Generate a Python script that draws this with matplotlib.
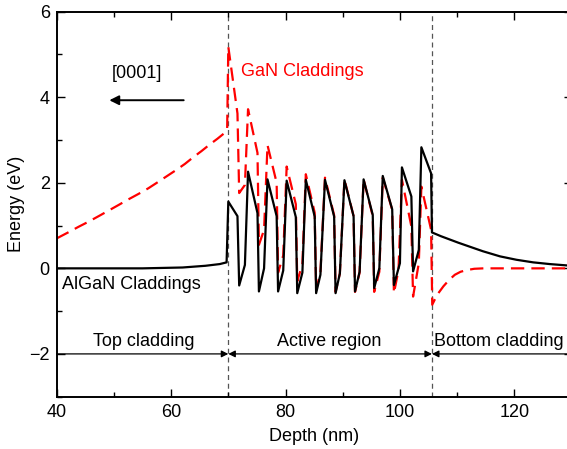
import matplotlib
matplotlib.use("Agg")
import matplotlib.pyplot as plt
from matplotlib.ticker import MultipleLocator

plt.rcParams['font.family'] = ['Liberation Sans', 'DejaVu Sans']

# AlGaN claddings (black, solid)
algan_x = [40, 55, 62, 66, 68.5, 69.7,
           70.0, 71.6, 71.9, 72.9,
           73.45, 75.1, 75.35, 76.25,
           76.85, 78.45, 78.7, 79.6,
           80.2, 81.8, 82.05, 82.95,
           83.55, 85.1, 85.35, 86.1,
           86.9, 88.5, 88.75, 89.5,
           90.3, 91.9, 92.15, 92.95,
           93.65, 95.25, 95.5, 96.4,
           97.0, 98.65, 98.95, 100.0,
           100.35, 102.0, 102.3, 103.3,
           103.75, 105.45, 105.6,
           107.2, 108.8, 110.2, 111.7, 114.5, 117.5, 120.4, 123.3, 126.2, 130]
algan_y = [0.0, 0.0, 0.02, 0.06, 0.1, 0.14,
           1.56, 1.22, -0.40, 0.08,
           2.26, 1.29, -0.54, 0.0,
           2.08, 1.22, -0.54, -0.05,
           2.05, 1.20, -0.58, -0.10,
           2.07, 1.21, -0.58, -0.15,
           2.07, 1.21, -0.58, -0.12,
           2.06, 1.22, -0.54, -0.08,
           2.08, 1.25, -0.46, 0.0,
           2.16, 1.38, -0.39, 0.12,
           2.36, 1.68, -0.07, 0.43,
           2.83, 2.22, 0.84,
           0.75, 0.67, 0.60, 0.53, 0.40, 0.28, 0.20, 0.14, 0.10, 0.06]

# GaN claddings (red, dashed)
gan_x = [40, 42, 43.8, 45.7, 47.6, 49.2, 50.8, 52.5, 54.3, 56, 57.5, 59.2,
         60.9, 62.4, 63.8, 65.3, 66.7, 68.1, 69.4, 69.8,
         70.0, 71.6, 71.9, 72.9,
         73.45, 75.1, 75.35, 76.25,
         76.85, 78.45, 78.7, 79.6,
         80.2, 81.8, 82.05, 82.95,
         83.55, 85.1, 85.35, 86.1,
         86.9, 88.5, 88.75, 89.5,
         90.3, 91.9, 92.15, 92.95,
         93.65, 95.25, 95.5, 96.4,
         97.0, 98.65, 98.95, 99.75,
         100.35, 102.0, 102.3, 103.3,
         103.75, 105.45, 105.65,
         106.5, 107.6, 108.6, 109.6, 110.6, 111.7, 113.0, 114.6, 130]
gan_y = [0.70, 0.84, 0.97, 1.10, 1.24, 1.36, 1.48, 1.61, 1.74, 1.87, 2.00, 2.15,
         2.30, 2.44, 2.59, 2.74, 2.89, 3.03, 3.17, 3.27,
         5.18, 3.62, 1.76, 1.95,
         3.72, 2.70, 0.55, 0.90,
         2.88, 2.00, -0.10, 0.30,
         2.38, 1.50, -0.30, 0.10,
         2.20, 1.30, -0.50, -0.10,
         2.12, 1.24, -0.55, -0.12,
         2.08, 1.22, -0.55, -0.10,
         2.08, 1.22, -0.55, -0.08,
         2.12, 1.37, -0.58, -0.04,
         2.07, 0.98, -0.66, 0.12,
         1.91, 0.90, -0.85,
         -0.62, -0.42, -0.27, -0.15, -0.08, -0.04, -0.01, 0.0, 0.0]

boundaries = [70.0, 105.6]
region_labels = ["Top cladding", "Active region", "Bottom cladding"]

fig = plt.figure(figsize=(5.67, 4.49), dpi=100)
ax = fig.add_axes([0.1, 0.1165, 0.908, 0.8575])

ax.plot(gan_x, gan_y, color='#ff0000', lw=1.6, linestyle=(0, (6, 3.2)), zorder=2)
ax.plot(algan_x, algan_y, color='black', lw=1.6, zorder=3)

for b in boundaries:
    ax.axvline(b, color='#555555', lw=0.9, linestyle=(0, (4, 3)), zorder=1)

arrow_kw = dict(color='black', lw=0.9, mutation_scale=10, shrinkA=0, shrinkB=0)
ax.annotate('', xy=(boundaries[0], -2), xytext=(40, -2),
            arrowprops=dict(arrowstyle='-|>', **arrow_kw))
ax.annotate('', xy=(boundaries[1], -2), xytext=(boundaries[0], -2),
            arrowprops=dict(arrowstyle='<|-|>', **arrow_kw))
ax.annotate('', xy=(boundaries[1], -2), xytext=(131, -2),
            arrowprops=dict(arrowstyle='-|>', **arrow_kw), annotation_clip=False)

fs = 13
ax.text(55.2, -1.72, region_labels[0], ha='center', va='center', fontsize=fs)
ax.text(87.6, -1.72, region_labels[1], ha='center', va='center', fontsize=fs)
ax.text(105.9, -1.72, region_labels[2], ha='left', va='center', fontsize=fs, clip_on=False)

ax.annotate('', xy=(49.2, 3.93), xytext=(62.2, 3.93),
            arrowprops=dict(arrowstyle='-|>', color='black', lw=1.4,
                            mutation_scale=14, shrinkA=0, shrinkB=0))
ax.text(54.0, 4.55, '[0001]', ha='center', va='center', fontsize=fs)
ax.text(72.3, 4.6, 'GaN Claddings', ha='left', va='center', fontsize=fs, color='#ff0000')
ax.text(41.0, -0.38, 'AlGaN Claddings', ha='left', va='center', fontsize=fs)

ax.set_xlim(40, 130)
ax.set_ylim(-3, 6)
ax.xaxis.set_major_locator(MultipleLocator(20))
ax.xaxis.set_minor_locator(MultipleLocator(10))
ax.yaxis.set_major_locator(MultipleLocator(2))
ax.yaxis.set_minor_locator(MultipleLocator(1))
ax.tick_params(which='both', direction='in', top=True, right=True, labelsize=fs, width=1.0)
ax.tick_params(which='major', length=6, pad=5)
ax.tick_params(which='minor', length=3.5)
for s in ax.spines.values():
    s.set_linewidth(1.4)

ax.set_xlabel('Depth (nm)', fontsize=fs, labelpad=5)
ax.set_ylabel('Energy (eV)', fontsize=fs, labelpad=3)

fig.savefig('out.png', dpi=100)
